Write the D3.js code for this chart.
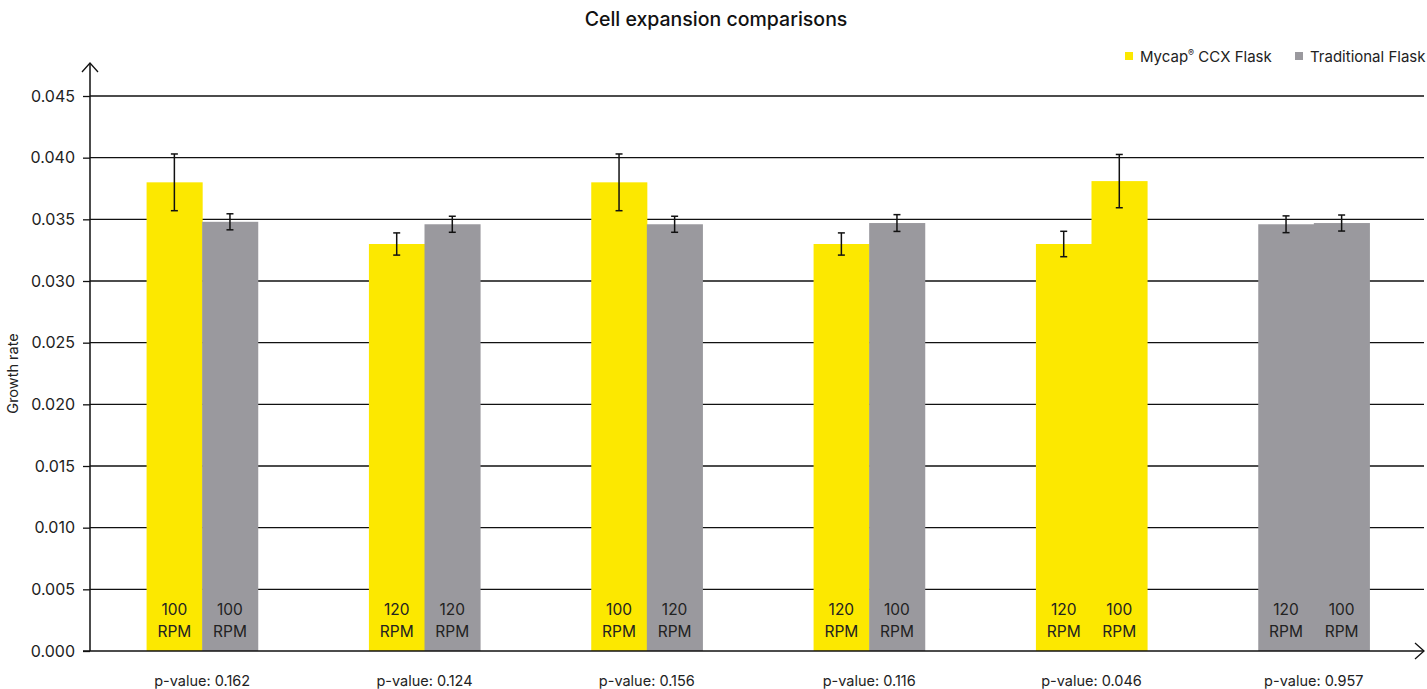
<!DOCTYPE html>
<html>
<head>
<meta charset="utf-8">
<script src="https://cdn.jsdelivr.net/npm/d3@7"></script>
<style>
  body { margin: 0; background: #fff; }
  svg { display: block; font-family: "Inter", "Lato", sans-serif; }
</style>
</head>
<body>
<svg id="chart" width="1427" height="689"></svg>
<script>
// Comparison groups along the x axis
const groups = ["G1", "G2", "G3", "G4", "G5", "G6"];
const pValues = ["0.162", "0.124", "0.156", "0.116", "0.046", "0.957"];

// Left bar of each pair
const leftFlask = ["Mycap", "Mycap", "Mycap", "Mycap", "Mycap", "Traditional"];
const leftRpm = [100, 120, 100, 120, 120, 120];
const leftValue = [0.0380, 0.0330, 0.0380, 0.0330, 0.0330, 0.0346];
const leftError = [0.0023, 0.0009, 0.0023, 0.0009, 0.00103, 0.00068];

// Right bar of each pair
const rightFlask = ["Traditional", "Traditional", "Traditional", "Traditional", "Mycap", "Traditional"];
const rightRpm = [100, 120, 120, 100, 100, 100];
const rightValue = [0.0348, 0.0346, 0.0346, 0.0347, 0.0381, 0.0347];
const rightError = [0.00065, 0.00065, 0.00065, 0.00068, 0.00216, 0.00065];

const yTicks = [0, 0.005, 0.010, 0.015, 0.020, 0.025, 0.030, 0.035, 0.040, 0.045];

const flaskColor = { Mycap: "#FCE800", Traditional: "#9A999E" };

const svg = d3.select("#chart");
const axisX = 90, baseY = 651, topY = 96, rightEnd = 1424;

const x = d3.scaleBand().domain(groups).range([91, 1425]).paddingInner(0.5).paddingOuter(0.25);
const sub = d3.scaleBand().domain(["L", "R"]).range([0, x.bandwidth()]);
const y = d3.scaleLinear().domain([0, 0.045]).range([baseY, topY]);

// Title
svg.append("text").attr("x", 716).attr("y", 26).attr("text-anchor", "middle")
  .attr("font-size", 19.5).attr("font-weight", 500).attr("fill", "#111")
  .text("Cell expansion comparisons");

// Horizontal gridlines
svg.append("g").selectAll("line").data(yTicks.filter(d => d > 0)).join("line")
  .attr("x1", axisX).attr("x2", rightEnd)
  .attr("y1", d => y(d)).attr("y2", d => y(d))
  .attr("stroke", "#111").attr("stroke-width", 1.3);

// Y axis ticks and labels
const yAxis = d3.axisLeft(y).tickValues(yTicks).tickFormat(d3.format(".3f")).tickSize(7).tickPadding(8);
const gy = svg.append("g").attr("transform", `translate(${axisX},0)`).call(yAxis);
gy.select(".domain").remove();
gy.selectAll(".tick line").attr("stroke", "#111").attr("stroke-width", 1.3);
gy.selectAll(".tick text").attr("font-size", 16).attr("fill", "#222").attr("font-family", "Inter, sans-serif");

// Y axis label
svg.append("text").attr("transform", `translate(18,${(baseY + topY) / 2}) rotate(-90)`)
  .attr("text-anchor", "middle").attr("font-size", 14.5).attr("fill", "#222")
  .text("Growth rate");

// Build bar records from the arrays
const bars = [];
groups.forEach((g, i) => {
  bars.push({ g, side: "L", flask: leftFlask[i], rpm: leftRpm[i], v: leftValue[i], e: leftError[i] });
  bars.push({ g, side: "R", flask: rightFlask[i], rpm: rightRpm[i], v: rightValue[i], e: rightError[i] });
});

const barG = svg.append("g").selectAll("g").data(bars).join("g")
  .attr("transform", d => `translate(${x(d.g) + sub(d.side)},0)`);

barG.append("rect")
  .attr("x", 0).attr("width", sub.bandwidth() + 0.5)
  .attr("y", d => y(d.v)).attr("height", d => baseY - y(d.v))
  .attr("fill", d => flaskColor[d.flask]);

// Error bars
const bw = sub.bandwidth();
barG.append("line").attr("x1", bw / 2).attr("x2", bw / 2)
  .attr("y1", d => y(d.v + d.e)).attr("y2", d => y(d.v - d.e))
  .attr("stroke", "#111").attr("stroke-width", 1.5);
barG.selectAll("line.cap").data(d => [d.v + d.e, d.v - d.e]).join("line")
  .attr("class", "cap")
  .attr("x1", bw / 2 - 3.5).attr("x2", bw / 2 + 3.5)
  .attr("y1", v => y(v)).attr("y2", v => y(v))
  .attr("stroke", "#111").attr("stroke-width", 1.5);

// RPM labels inside bars
const lbl = barG.append("text").attr("text-anchor", "middle").attr("font-size", 15.5).attr("fill", "#222");
lbl.append("tspan").attr("x", bw / 2).attr("y", 615).text(d => d.rpm);
lbl.append("tspan").attr("x", bw / 2).attr("y", 637).text("RPM");

// X axis with arrow
svg.append("line").attr("x1", axisX - 7).attr("x2", rightEnd).attr("y1", baseY).attr("y2", baseY)
  .attr("stroke", "#111").attr("stroke-width", 1.5);
svg.append("path").attr("d", `M${rightEnd - 9},${baseY - 8}L${rightEnd},${baseY}L${rightEnd - 9},${baseY + 8}`)
  .attr("fill", "none").attr("stroke", "#111").attr("stroke-width", 1.3);

// Y axis with arrow
svg.append("line").attr("x1", axisX).attr("x2", axisX).attr("y1", baseY).attr("y2", 63)
  .attr("stroke", "#111").attr("stroke-width", 1.5);
svg.append("path").attr("d", `M${axisX - 8},${72}L${axisX},${63}L${axisX + 8},${72}`)
  .attr("fill", "none").attr("stroke", "#111").attr("stroke-width", 1.3);

// p-value labels
svg.append("g").selectAll("text").data(groups).join("text")
  .attr("x", g => x(g) + x.bandwidth() / 2).attr("y", 686)
  .attr("text-anchor", "middle").attr("font-size", 14.5).attr("fill", "#222")
  .text((g, i) => `p-value: ${pValues[i]}`);

// Legend
const legend = svg.append("g").attr("font-size", 15).attr("fill", "#222");
legend.append("rect").attr("x", 1125).attr("y", 52).attr("width", 8).attr("height", 8).attr("fill", flaskColor.Mycap);
const lt = legend.append("text").attr("x", 1140).attr("y", 62);
lt.append("tspan").text("Mycap");
lt.append("tspan").attr("font-size", 9).attr("dy", -6).text("®");
lt.append("tspan").attr("dy", 6).text(" CCX Flask");
legend.append("rect").attr("x", 1295).attr("y", 52).attr("width", 8).attr("height", 8).attr("fill", flaskColor.Traditional);
legend.append("text").attr("x", 1310).attr("y", 62).text("Traditional Flask");
</script>
</body>
</html>
